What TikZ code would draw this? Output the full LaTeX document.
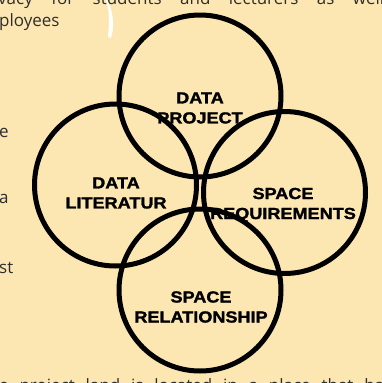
\documentclass[tikz,border=0pt]{standalone}
\usepackage{fontspec}
\setmainfont{Open Sans}
\newfontfamily\labelfont[FakeStretch=1.13,FakeBold=1.6]{Liberation Sans Bold}
\definecolor{paper}{HTML}{FCE7B3}
\definecolor{bodytext}{HTML}{2E2E2E}
\begin{document}
\begin{tikzpicture}[x=1pt,y=-1pt]
        % Styles for the circles and their labels
        \tikzset{
            ring/.style={
                draw=black,
                line width=5pt,
                circle,
                minimum size=162pt,
                inner sep=0pt
            },
            ringlabel/.style={
                align=center,
                inner sep=0pt,
                font=\labelfont\fontsize{16}{20}\selectfont
            },
            bodyline/.style={
                anchor=base west,
                inner sep=0pt,
                text=bodytext,
                font=\fontsize{17}{20}\selectfont
            }
        }
        % Page background
        \fill[paper] (0,0) rectangle (382,383);
        \useasboundingbox (0,0) rectangle (382,383);
        % Fragments of the surrounding text
        \begin{scope}
            \clip (0,0) rectangle (382,383);
            \node[bodyline] (lineA) at (-2,4) {\makebox[386pt][s]{vacy for students and lecturers as well}};
            \node[bodyline] (lineB) at (-1,26) {ployees};
            \node[bodyline] (lineC) at (-1,137) {e};
            \node[bodyline] (lineD) at (-1,203) {a};
            \node[bodyline] (lineE) at (-1,273) {st};
            \node[bodyline] (lineF) at (-1,391) {\makebox[385pt][s]{e project land is located in a place that ha}};
            % White mark at the top
            \fill[white] (107,0) .. controls (113,10) and (115,26) .. (111,38)
                -- (108,37) .. controls (109,25) and (110,12) .. (106,0) -- cycle;
        \end{scope}
        % Labels
        \node[ringlabel] (project) at (200,108) {DATA\\PROJECT};
        \node[ringlabel] (literatur) at (116,193) {DATA\\LITERATUR};
        \node[ringlabel] (requirements) at (283,205) {SPACE\\REQUIREMENTS};
        \node[ringlabel] (relationship) at (201,307) {SPACE\\RELATIONSHIP};
        % Circles
        \node[ring] (ringProject) at (200,96) {};
        \node[ring] (ringLiteratur) at (115.5,185) {};
        \node[ring] (ringRequirements) at (284.5,192.5) {};
        \node[ring] (ringRelationship) at (200,290) {};
    \end{tikzpicture}
\end{document}
